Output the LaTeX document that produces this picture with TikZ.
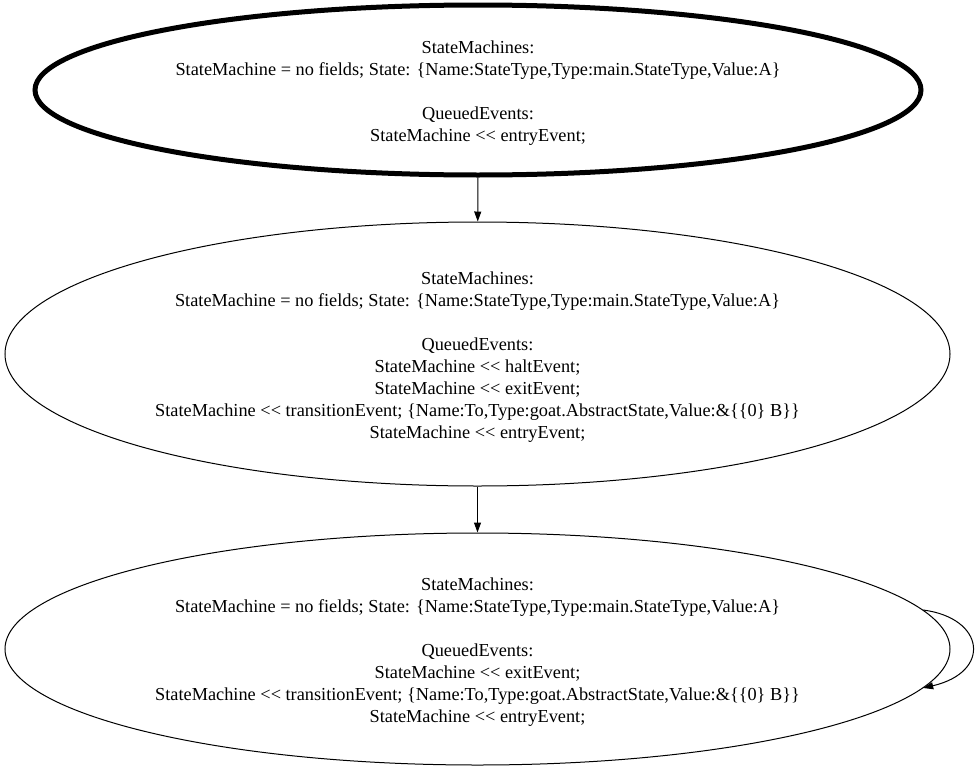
\documentclass[tikz,border=0pt]{standalone}
\usepackage{fontspec}
\setmainfont{Liberation Serif}
\usetikzlibrary{arrows.meta, shapes.geometric}

\newcommand{\shl}{{<}{<}}
\newcommand{\toppad}{\rule{0pt}{18.5pt}}

\tikzset{
  statenode/.style={draw, ellipse, line width=1pt, inner sep=0pt, align=center,
    font=\fontsize{18.3}{22}\selectfont},
  edge/.style={line width=1pt, -{Triangle[length=10pt, width=7pt]}}
}

\begin{document}
\begin{tikzpicture}[x=1pt, y=-1pt]
\useasboundingbox (0,0) rectangle (980,771);

% Start state
\node[statenode, line width=5pt, minimum width=886pt, minimum height=170pt] (s1) at (478, 90)
  {\toppad StateMachines:\\StateMachine = no fields; State: \{Name:StateType,Type:main.StateType,Value:A\}\\[22pt]QueuedEvents:\\StateMachine \shl{} entryEvent;};

% Second state
\node[statenode, minimum width=945pt, minimum height=264pt] (s2) at (477.5, 354)
  {\toppad StateMachines:\\StateMachine = no fields; State: \{Name:StateType,Type:main.StateType,Value:A\}\\[22pt]QueuedEvents:\\StateMachine \shl{} haltEvent;\\StateMachine \shl{} exitEvent;\\StateMachine \shl{} transitionEvent; \{Name:To,Type:goat.AbstractState,Value:\&\{\{0\} B\}\}\\StateMachine \shl{} entryEvent;};

% Third state
\node[statenode, minimum width=945pt, minimum height=232pt] (s3) at (477.5, 649)
  {\toppad StateMachines:\\StateMachine = no fields; State: \{Name:StateType,Type:main.StateType,Value:A\}\\[22pt]QueuedEvents:\\StateMachine \shl{} exitEvent;\\StateMachine \shl{} transitionEvent; \{Name:To,Type:goat.AbstractState,Value:\&\{\{0\} B\}\}\\StateMachine \shl{} entryEvent;};

\draw[edge] (s1) -- (s2);
\draw[edge] (s2) -- (s3);
\draw[edge] (s3.5) .. controls (985, 618) and (992, 672) .. (s3.-5);

\end{tikzpicture}
\end{document}
